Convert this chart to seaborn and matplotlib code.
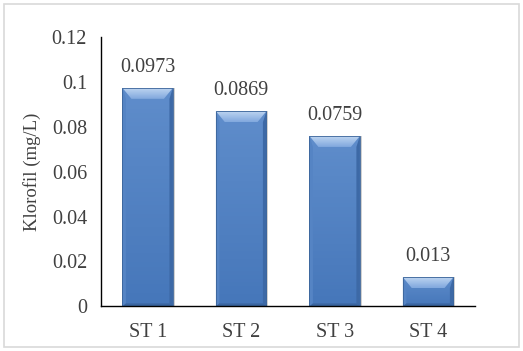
import numpy as np
import pandas as pd
import matplotlib.pyplot as plt
import seaborn as sns
from matplotlib.patches import Polygon, Rectangle
from matplotlib.colors import LinearSegmentedColormap

stations = ["ST 1", "ST 2", "ST 3", "ST 4"]
klorofil = [0.0973, 0.0869, 0.0759, 0.013]
value_labels = ["0.0973", "0.0869", "0.0759", "0.013"]

sns.set_theme(style="white")
plt.rcParams['font.family'] = ['Liberation Serif', 'DejaVu Serif']
txt = "#404040"

df = pd.DataFrame({"station": stations, "klorofil": klorofil})

fig = plt.figure(figsize=(5.23, 3.51), dpi=100)
ax = fig.add_axes([0.193, 0.127, 0.715, 0.768])

sns.barplot(data=df, x="station", y="klorofil", color="#4A7EC0",
            saturation=1, width=0.54, ax=ax, edgecolor="none", linewidth=0)

ax.set_ylim(0, 0.12)
ax.set_xlim(-0.5, 3.5)
ax.set_yticks(np.arange(0, 0.121, 0.02))
ax.set_yticklabels(["0", "0.02", "0.04", "0.06", "0.08", "0.1", "0.12"])
ax.tick_params(axis="both", length=0, labelsize=14.5, colors=txt, pad=10)
ax.tick_params(axis="x", pad=12)
ax.set_xlabel("")
ax.set_ylabel("Klorofil (mg/L)", fontsize=13.5, color=txt, labelpad=8)
for side in ["top", "right"]:
    ax.spines[side].set_visible(False)
for side in ["left", "bottom"]:
    ax.spines[side].set_color("black")
    ax.spines[side].set_linewidth(1.0)
    ax.spines[side].set_zorder(6)

body_cmap = LinearSegmentedColormap.from_list("body", ["#4677BA", "#5F8DCB"])
top_cmap = LinearSegmentedColormap.from_list("top", ["#82A9DE", "#BCD3F0"])

# bevel effect on each bar, derived from the bar patches
fig.canvas.draw()
to_data = ax.transData.inverted()
for p, lab in zip(ax.patches, value_labels):
    x0, y0 = p.get_x(), p.get_y()
    x1, y1 = x0 + p.get_width(), y0 + p.get_height()
    (px0, py0), (px1, py1) = ax.transData.transform([(x0, y0), (x1, y1)])
    bt = min(11, (py1 - py0) / 2.4)
    bx = 9
    bs = 3.5
    bb = 3
    (ix0, iy0), (ix1, iy1) = to_data.transform([(px0 + bs, py0 + bb), (px1 - bs, py1 - bt)])
    (tx0, _), (tx1, _) = to_data.transform([(px0 + bx, 0), (px1 - bx, 0)])
    # soft shadow
    (sx, sy) = to_data.transform([(px0 + 2, py0 - 2)])[0]
    ax.add_patch(Rectangle((sx, 0), x1 - x0, y1, facecolor="#000000", alpha=0.18,
                           edgecolor="none", zorder=1.5))
    # body gradient
    im = ax.imshow(np.linspace(0, 1, 50).reshape(-1, 1), cmap=body_cmap, aspect="auto",
                   origin="lower", extent=(x0, x1, y0, y1), zorder=2.5)
    im.set_clip_path(p)
    # side facets
    ax.add_patch(Polygon([(x0, y1), (ix0, iy1), (ix0, iy0), (x0, y0)], closed=True,
                         facecolor="#5584C4", edgecolor="none", zorder=3))
    ax.add_patch(Polygon([(x1, y1), (ix1, iy1), (ix1, iy0), (x1, y0)], closed=True,
                         facecolor="#3D69A6", edgecolor="none", zorder=3))
    ax.add_patch(Polygon([(x0, y0), (ix0, iy0), (ix1, iy0), (x1, y0)], closed=True,
                         facecolor="#3A65A0", edgecolor="none", zorder=3))
    # top facet gradient
    top = Polygon([(x0, y1), (x1, y1), (tx1, iy1), (tx0, iy1)], closed=True,
                  facecolor="none", edgecolor="none")
    ax.add_patch(top)
    im2 = ax.imshow(np.linspace(0, 1, 20).reshape(-1, 1), cmap=top_cmap, aspect="auto",
                    origin="lower", extent=(x0, x1, iy1, y1), zorder=3.2)
    im2.set_clip_path(top)
    ax.add_patch(Rectangle((x0, y0), x1 - x0, y1 - y0, facecolor="none",
                           edgecolor="#3B6499", linewidth=0.6, zorder=4))
    ax.text((x0 + x1) / 2, y1 + 0.005, lab, ha="center", va="bottom",
            fontsize=14.5, color=txt)

ax.set_xlim(-0.5, 3.5)
ax.set_ylim(0, 0.12)

# light grey frame around the chart area
fig.patches.append(Rectangle((0.008, 0.012), 0.984, 0.976, transform=fig.transFigure,
                             facecolor="none", edgecolor="#D9D9D9", linewidth=1.2))

fig.savefig("out.png", dpi=100)
